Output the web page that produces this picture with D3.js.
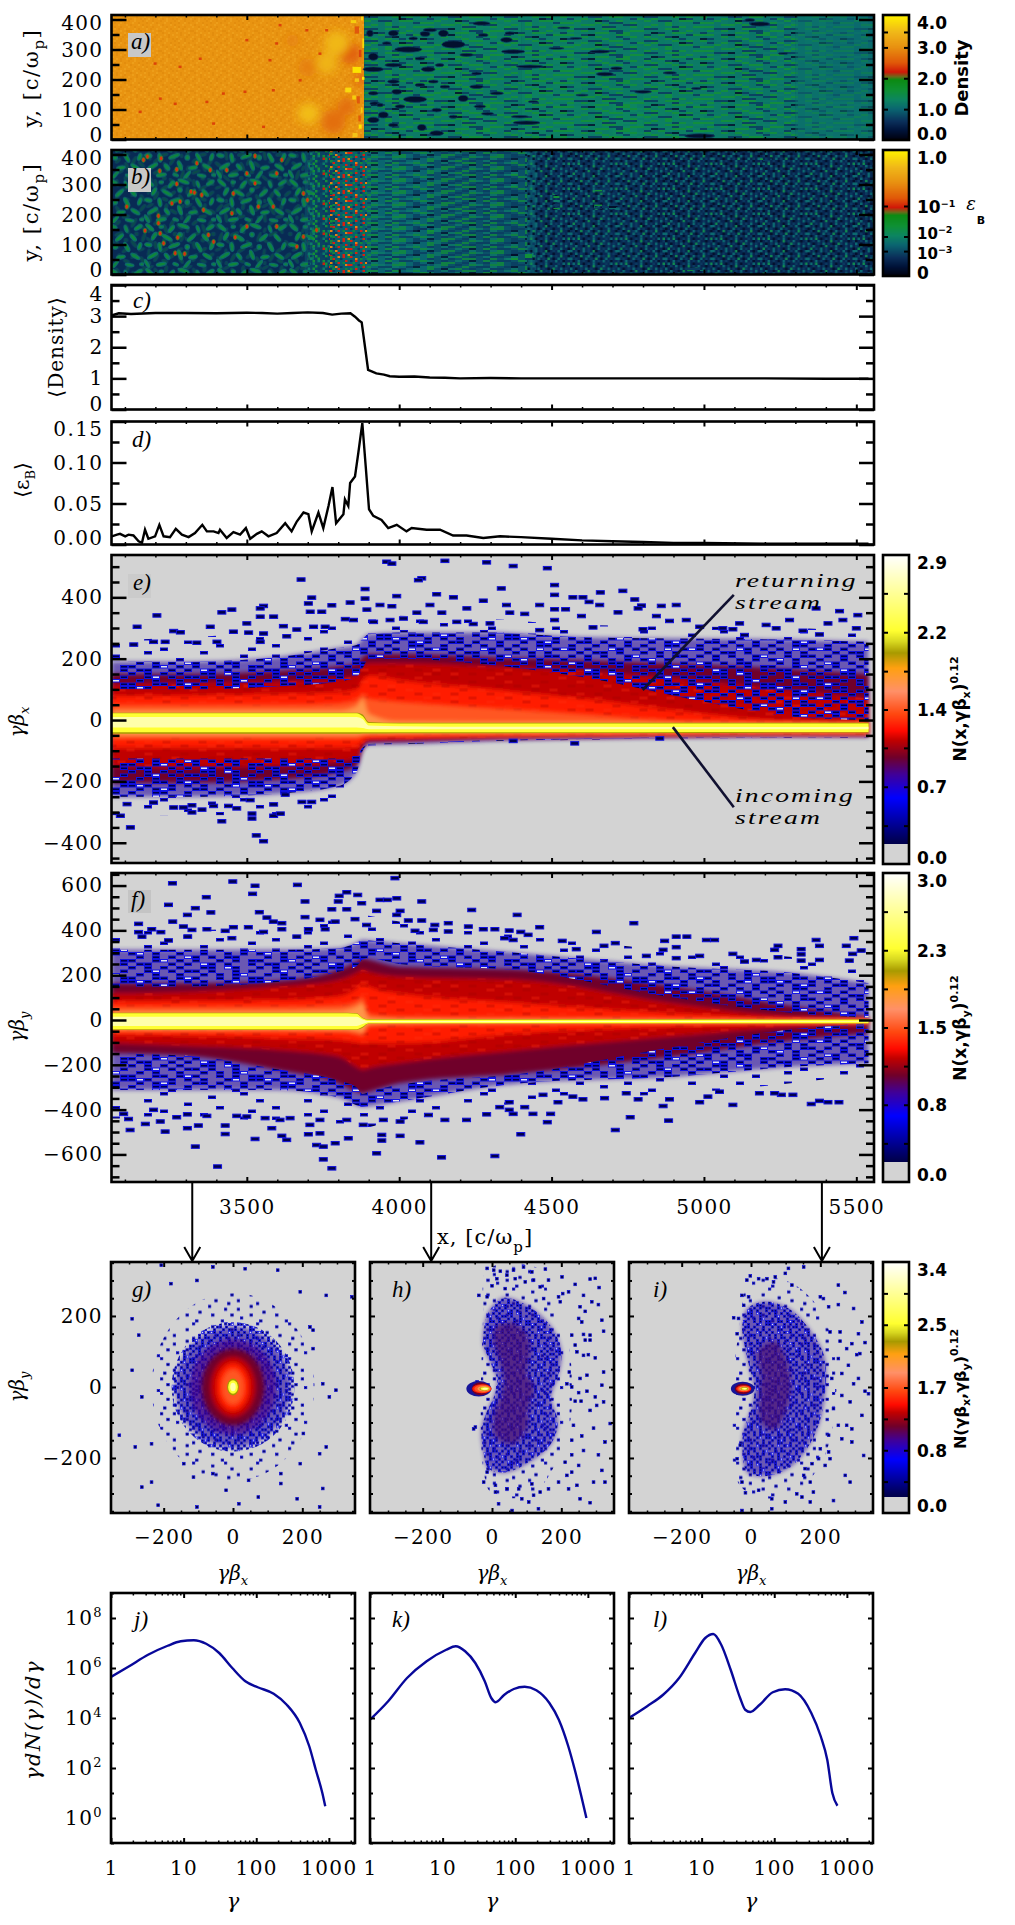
<!DOCTYPE html>
<html><head><meta charset="utf-8"><script src="https://cdn.jsdelivr.net/npm/d3@7"></script>
<style>html,body{margin:0;background:#fff}svg{display:block}</style></head><body><div id="chart"></div>
<script>
// ---------- values ----------
const xMajorTicks=[3500,4000,4500,5000,5500];
const cX=[3056,3080,3120,3200,3300,3400,3500,3550,3600,3650,3700,3750,3780,3810,3840,3855,3868,3877,3888,3898,3925,3950,3969,4000,4050,4100,4150,4200,4300,4400,4500,4600,4800,5000,5200,5400,5540];
const cDensity=[3.02,3.09,3.07,3.1,3.1,3.09,3.11,3.1,3.08,3.1,3.12,3.1,3.05,3.08,3.09,2.98,2.86,2.8,2.0,1.27,1.16,1.12,1.07,1.05,1.06,1.03,1.02,1,1.01,1,1,1,1,1,1,.99,.99];
const dX=[3057,3074,3084,3101,3112,3128,3145,3156,3166,3177,3199,3213,3227,3248,3267,3287,3309,3330,3354,3369,3391,3407,3412,3434,3456,3478,3497,3511,3533,3549,3571,3598,3626,3647,3664,3686,3702,3713,3735,3751,3768,3781,3793,3817,3822,3833,3839,3855,3866,3879,3890,3901,3915,3942,3964,3992,4024,4041,4090,4134,4177,4221,4276,4331,4400,4500,4600,4700,4800,4900,5000,5200,5540];
const dEps=[.010,.012,.013,.010,.012,.011,.004,.002,.018,.007,.010,.024,.010,.009,.019,.012,.009,.014,.024,.016,.016,.014,.018,.008,.015,.012,.020,.007,.013,.016,.010,.014,.026,.016,.028,.039,.037,.016,.039,.020,.047,.070,.026,.037,.055,.047,.075,.083,.112,.148,.096,.043,.035,.030,.020,.024,.016,.020,.018,.018,.011,.011,.008,.010,.009,.007,.005,.004,.003,.002,.002,.001,.001];
const logGammaJ=[0,.25,.51,.78,.96,1.14,1.31,1.49,1.67,1.85,2.02,2.24,2.42,2.6,2.73,2.82,2.91,2.95];
const logNJ=[5.64,6.07,6.53,6.89,7.07,7.11,6.97,6.6,6.0,5.47,5.23,4.97,4.53,3.8,2.87,1.93,1.0,.47];
const logGammaK=[0,.25,.51,.78,1.05,1.18,1.31,1.45,1.58,1.67,1.73,1.85,1.98,2.13,2.29,2.47,2.6,2.73,2.82,2.91,2.98];
const logNK=[3.93,4.67,5.6,6.27,6.73,6.87,6.67,6.2,5.47,4.8,4.63,4.93,5.16,5.25,5.11,4.6,3.93,2.87,1.93,.87,0];
const logGammaL=[0,.25,.47,.69,.91,1.05,1.16,1.27,1.4,1.53,1.6,1.67,1.8,1.98,2.15,2.33,2.51,2.64,2.73,2.8,2.87];
const logNL=[4,4.47,4.93,5.6,6.6,7.2,7.36,6.93,5.93,4.8,4.33,4.24,4.53,5.03,5.15,4.97,4.2,3.27,2.33,1,.49];

const densityStops=[0,.3,.6,1,1.3,1.6,1.95,2.05,2.2,2.5,3,3.5,4];
const densityColors=["#00000c","#001238","#0a2f5a","#0a6570","#0c8560","#0e9035","#0c8a12","#6a6a1a","#d01808","#e05808","#e89010","#f0b818","#ffee00"];
const hotStops=[0,.072,.214,.29,.345,.40,.431,.486,.559,.634,.683,.72,.755,.907,1];
const hotColors=["#000030","#000050","#0000ff","#400098","#70002a","#c00000","#ff0a00","#ff4810","#ff9068","#ffa010","#a89a00","#d8d820","#ffff30","#ffffb0","#ffffff"];
const heatLevels=[.26,.345,.40,.45,.5,.585,.683,.755,.9];

// panel e contours (gamma beta_x at each contour level, per x knot)
const eKnots=[3056,3300,3600,3800,3860,3880,3900,4000,4300,4600,5000,5300,5540];
const eUpper=[[190,190,205,235,245,265,280,285,285,270,265,262,255],[150,150,160,175,185,205,215,215,205,195,180,165,150],[115,120,125,135,145,175,185,185,175,160,125,95,70],[78,80,85,90,100,130,145,130,100,70,20,-5,-10],[50,50,50,55,65,85,70,60,40,20,-5,-8,-10],[30,30,30,30,45,70,20,-5,-7,-7,-8,-8,-8],[24,24,24,24,24,18,-6,-9,-9,-9,-9,-9,-9],[22,22,22,22,22,12,-10,-11,-11,-11,-11,-11,-11],[10,10,10,10,10,3,-18,-20,-22,-22,-23,-23,-22]];
const eLower=[[-250,-250,-240,-215,-170,-100,-80,-78,-68,-62,-58,-56,-56],[-205,-205,-195,-170,-150,-92,-72,-70,-62,-58,-54,-52,-52],[-150,-155,-150,-135,-125,-82,-66,-64,-58,-54,-50,-49,-49],[-90,-90,-90,-90,-88,-68,-60,-58,-53,-50,-47,-46,-46],[-62,-62,-62,-62,-62,-55,-52,-50,-49,-47,-45,-44,-44],[-50,-50,-50,-50,-50,-48,-47,-46,-45,-44,-43,-42,-42],[-45,-45,-45,-45,-45,-44,-44,-43,-43,-42,-42,-41,-41],[-40,-40,-40,-40,-40,-40,-40,-40,-40,-40,-39,-39,-39],[-24,-24,-24,-24,-24,-26,-30,-30,-30,-30,-30,-30,-30]];
const eNoisyUpper=[100,100,110,125,140,170,200,200,180,140,60,10,0];
const eNoisyLower=[-125,-125,-125,-125,-115,-90,-78,-76,-66,-60,-57,-55,-55];
const eSparseUpper=[260,270,290,320,330,340,345,340,330,310,305,300,290];
const eSparseLower=[-310,-310,-310,-290,-230,-110,-85,-80,-70,-64,-60,-58,-58];
const eOutX=[3959,3976,4150,4287,3678,4074,4063,3888,3713,3992,4123,4178,4276,3205,3418,3451,3555,3544,3702,3779,3839,3708,3746,3888,3937,3976,3894,4101,4140,4222,3500,3544,3588,3620,3380,3140,3260,3282,3456,3506,3555,3664,3719,3757,3823,3850,3916,3970,4014,4058,4079,4189,4243,4298,3194,3232,3336,3402,3544,3631,3129,3118,3085,3531,3555,3418,3517,3517,3588,3610,3353,3320,3467,3440,3260,3292,3320,3194,3107,3391,3588,3681,3713,3626,3511,4374,4486,4510,4510,4335,4570,4603,4623,4660,4734,4773,4658,4461,4510,4546,4795,4784,4860,4909,4352,4718,4598,4510,4412,4363,4844,5445,5368,5505,5281,5204,5407,5456,5117,4942,4887,5237,5062,5095,5325,5500,5379,5133,4986,4800,4636,4461,4576,4374,4855];
const eOutY=[516,510,519,514,458,462,456,427,399,404,410,400,389,341,351,360,372,364,380,374,383,353,353,396,375,371,360,375,350,364,315,337,337,306,304,304,290,286,288,285,282,295,304,304,329,326,320,326,331,350,320,320,313,315,255,255,252,255,255,273,246,-350,-312,-376,-395,-330,-305,-321,-312,-305,-292,-301,-288,-280,-285,-285,-278,-269,-274,-280,-275,-267,-267,-243,-261,502,495,440,408,429,400,400,385,416,421,393,375,375,361,361,373,364,372,375,375,351,339,326,346,350,339,355,364,342,326,310,315,326,315,326,323,299,299,296,291,299,279,277,304,296,302,293,-76,-68,-60];
const annoReturningX=[5098,4799], annoReturningY=[408,98], annoIncomingX=[4898,5098], annoIncomingY=[-23,-284];

// panel f contours
const fKnots=[3056,3300,3600,3800,3860,3880,3900,4000,4400,4900,5300,5540];
const fUpper=[[313,313,313,320,345,357,355,343,298,238,209,164],[164,164,175,224,260,276,270,238,224,149,60,15],[119,125,149,179,210,224,215,194,179,75,15,8],[82,85,90,105,140,164,150,119,75,30,5,3],[60,60,60,67,85,105,30,15,10,6,4,3],[38,38,38,40,60,75,8,6,5,4,3,3],[32,32,32,32,30,10,3,3,3,3,2,2],[30,30,30,30,28,8,1,1,1,1,1,1],[15,15,15,15,14,2,-5,-5,-5,-5,-6,-6]];
const fLower=[[-312,-312,-312,-345,-380,-387,-385,-364,-282,-253,-208,-193],[-148,-160,-223,-282,-320,-327,-320,-282,-238,-163,-89,-59],[-104,-115,-134,-163,-210,-223,-215,-193,-134,-74,-29,-20],[-67,-70,-80,-89,-100,-104,-100,-104,-59,-29,-18,-15],[-52,-52,-52,-55,-65,-74,-29,-22,-18,-16,-15,-14],[-46,-46,-46,-46,-50,-55,-20,-17,-16,-15,-14,-14],[-43,-43,-43,-43,-43,-35,-16,-15,-15,-15,-14,-14],[-41,-41,-41,-41,-41,-30,-15,-14,-14,-14,-14,-14],[-27,-27,-27,-27,-27,-18,-10,-10,-10,-9,-9,-9]];
const fNoisyUpper=[150,150,170,215,240,270,275,250,220,100,30,10];
const fNoisyLower=[-150,-160,-220,-270,-300,-330,-320,-290,-240,-120,-40,-15];
const fSparseUpper=[400,400,420,450,460,470,465,440,380,310,280,240];
const fSparseLower=[-440,-440,-450,-480,-490,-490,-480,-450,-370,-330,-280,-240];
const fOutX=[3256,3454,3527,3666,3986,3243,3367,3519,3331,3305,3382,3541,3691,3803,3828,3864,3800,3877,3937,3961,3992,4074,4238,4003,3926,3828,3779,3691,3145,3257,3292,3320,3369,3188,3145,3218,3429,3505,3555,3456,3566,3587,3615,3615,3702,3740,3757,3790,3855,3893,3992,4030,4074,4117,4161,4227,4052,4112,4276,4161,4314,3243,3156,3306,3451,3664,3331,3404,3751,3779,3926,4139,4314,3729,3751,3790,3833,3615,3631,3527,3429,3232,3117,4068,3943,3943,4003,3702,3740,3582,3341,3305,3429,3167,3216,3112,3270,3194,3096,3305,3369,3467,3500,3560,3609,3642,3707,3740,3828,3882,3948,4003,4150,4221,4287,4096,4387,4770,4461,4361,4399,4647,4423,4346,4374,4535,4909,4944,5008,5035,4871,5368,5492,4709,4672,4909,4581,5379,5467,5243,5319,5232,5516,4866,5095,5319,5488,5243,5172,5133,5379,5477,5319,4986,4909,4811,4399,4709,4884,4758,4486,4439,4374,4497,4866,4412,4361,5095,5352,5379,5407,5443,5292,5254,5232,5182,4986,5013,5051,4887,4784,4745,4674,4603,4570,4521,4472,4361,4330];
const fOutY=[610,618,599,603,633,514,548,563,499,469,480,481,529,554,570,558,529,521,536,536,543,529,491,487,487,494,494,459,429,439,417,402,405,405,392,392,398,414,393,414,457,439,432,405,405,447,405,439,450,424,469,444,444,424,432,417,398,402,405,395,405,355,372,372,365,372,-565,-654,-622,-662,-595,-613,-607,-558,-565,-550,-528,-517,-535,-531,-509,-498,-491,-546,-538,-513,-517,-510,-506,-483,-471,-483,-471,-464,-453,-442,-434,-401,-419,-421,-428,-428,-431,-438,-446,-438,-468,-446,-446,-468,-446,-453,-446,-446,-421,-424,469,432,414,399,393,393,380,365,357,353,372,372,357,357,353,357,365,343,331,325,316,331,331,331,316,313,310,313,295,293,295,280,268,261,268,265,265,286,276,286,-510,-491,-449,-434,-456,-419,-419,-419,-384,-389,-401,-379,-375,-361,-367,-367,-334,-334,-327,-327,-367,-342,-320,-354,-354,-327,-349,-354,-342,-367,-334,-367,-389];

// panels g, h, i
const gRx=[165,125,90,65,48,32,17,14,8], gRy=[170,135,108,85,68,50,24,19,12];
const gOutX=[-207,-179,-104,-58,35,129,194,269,343,-291,-272,-291,-263,-328,-235,-282,222,231,259,297,278,231,203,269,250,194,138,138,259,185,250,-104,-216,-263,-235,-142,-114,-58,45,73,-20,17];
const gOutY=[343,291,300,338,333,329,268,258,254,192,146,47,-28,-136,-160,-169,169,160,9,-9,-28,108,-131,-169,-188,-216,-244,-272,-286,-315,-338,-338,-333,-282,-268,-216,-254,-244,-263,-310,-291,-329];
const hHullX=[-10,30,100,170,200,190,170,190,170,110,40,-10,-25,-30,-15,5,15,-5,-25,-20], hHullY=[210,250,230,170,100,30,-30,-100,-160,-210,-240,-230,-180,-120,-70,-30,20,70,120,180];
const hCoreX=[10,60,100,110,100,120,105,100,60,10,5,25,35,20,5], hCoreY=[170,180,150,100,40,0,-60,-120,-160,-140,-80,-30,20,80,130];
const hOuterX=[-25,-14,130,170,220,230,220,120,0,-25], hOuterY=[210,330,335,240,120,0,-120,-300,-300,-230];
const iHullX=[-10,40,110,170,210,215,200,170,120,50,-10,-25,-20,5,10,0,-15,-25], iHullY=[220,240,220,160,90,0,-90,-160,-220,-250,-240,-170,-120,-50,0,40,100,170];
const iCoreX=[20,70,105,115,100,70,30,25,30], iCoreY=[100,130,70,0,-70,-120,-100,-30,30];
const iOuterX=[-30,0,100,190,240,240,200,100,-30], iOuterY=[200,300,300,230,100,-80,-220,-310,-280];
// beam ellipses: centre x, half width, half height, per level
const hBeamCx=[-38,-33,-29,-27,-24,-22,-21,-20], hBeamRx=[36,26,28,24,18,14,12,8], hBeamRy=[22,18,13,11,8,5,4,2.5];
const iBeamCx=[-24,-23,-21,-21,-20,-19,-19,-18], iBeamRx=[34,24,22,18,14,11,9,5], iBeamRy=[20,15,10,8,6,4,3,2];
const hOutX=[-14,5,24,43,62,91,115,154,14,67,96,120,163,202,283,298,309,240,221,204,192,-38,-14,0,38,139,149,197,264,288,307,254,269,250,317,259,264,283,322,269,283,230,240,245,264,298,278,223,274,322,254,317,216,230,250,274,298,322,240,257,283,302,341,293,235,259,230,326,264,230,307,211,250,230,317,216,326,293,245,192,163,221,139,120,254,283,10,19,58,86,106,134,-14,-24,10,43,77,115,-48,-53,-43];
const hOutY=[334,329,326,315,329,338,324,332,305,305,296,301,301,310,304,306,280,289,268,263,254,258,254,285,277,282,249,240,258,240,232,226,213,193,188,183,148,146,157,132,132,146,118,99,89,82,91,42,33,42,24,5,9,0,-16,-12,-28,-42,-40,-40,-66,-52,-103,-116,-108,-138,-150,-155,-179,-191,-191,-212,-221,-240,-235,-249,-268,-268,-277,-268,-287,-287,-296,-305,-315,-326,-296,-329,-348,-315,-324,-343,-240,-268,-277,-287,-287,-273,-113,-118,14];
const iOutX=[152,108,99,70,46,-2,-12,22,65,118,252,271,296,209,200,224,252,-26,-7,-21,-50,-36,320,310,257,228,-40,329,291,257,314,276,305,252,281,262,233,310,296,329,339,262,286,320,238,252,291,276,262,224,291,200,224,325,195,228,176,214,156,272,286,171,152,180,132,99,60,60,147,171,238,-16,22,-26,-40,-31,-26];
const iOutY=[338,334,320,310,305,313,301,305,296,287,287,266,221,249,254,226,232,258,254,230,195,193,183,150,155,155,150,125,122,129,94,108,91,80,61,38,24,24,9,-12,-19,-24,-42,-80,-61,-108,-118,-108,-146,-136,-155,-174,-183,-193,-202,-202,-216,-221,-230,-249,-268,-268,-249,-296,-301,-324,-315,-343,-310,-324,-320,-298,-291,-268,-202,-164,-348];

// panel a: mean density in coarse bins on the upstream side of the shock front
const aBinX=[3885,4000,4100,4200,4300,4400,4500,4600,4700,4800,4900,5000,5100,5200,5300,5400,5558];
const aBinTop=[1.15,1.2,1.2,1.25,1.25,1.2,1.25,1.2,1.2,1.2,1.2,1.15,1.15,1.1,1.1,1.05];
const aBinMid=[1.2,1.2,1.25,1.2,1.2,1.25,1.25,1.2,1.2,1.25,1.2,1.2,1.15,1.15,1.1,1.05];
const aBinLow=[1.15,1.2,1.2,1.25,1.2,1.25,1.25,1.25,1.3,1.25,1.25,1.2,1.2,1.15,1.1,1.1];
const aBinRows=[415,280,130,0];
// x, y, half-width, half-height in data units
const aLensX=[4178,4030,3915,3915,3981,4095,4052,3948,3915,4074,4123,4145,4085,3981,3904,3992,4210,4254,4270,4254,4068,4150,4003,4290,4352,4363,4374,4429,4713,4675,4658,4800,5183,5150,4986,4418,4396,4888,5260,4975,4516,4580,4600,4440,4540,3920,4101,4276,3959,4068,4221,4133,3981,4112,3915,4123,4178,3981,4265,4320,3937,4046];
const aLensY=[317,300,234,276,248,234,134,82,65,40,21,354,352,354,354,159,137,176,387,220,182,176,110,86,332,354,293,243,237,218,293,159,385,398,12,56,76,222,287,170,304,337,148,126,372,120,365,348,321,270,282,248,193,193,154,98,76,48,110,154,115,337];
const aLensW=[38,44,33,16,28,22,38,16,19,14,22,16,16,16,11,16,16,22,28,16,16,16,16,20,19,16,38,44,19,28,33,28,33,16,49,44,28,22,16,16,25,20,20,16,20,16,22,16,14,16,22,14,19,16,16,16,14,16,19,22,11,14];
const aLensH=[12,9,8,12,6,8,10,10,9,10,8,11,8,9,11,8,10,6,6,5,5,5,6,5,8,5,6,5,5,6,5,5,7,5,7,6,4,4,3,3,3,3,3,3,3,6,6,5,5,5,5,5,6,5,6,6,5,6,5,5,6,5];
const aBlobX=[3839,3784,3828,3795,3762,3702,3872,3700,3650];
const aBlobY=[287,59,110,321,254,87,200,240,330];
const aBlobR=[35,40,30,40,35,35,20,30,20];
const aBlobV=[2.55,2.7,2.7,3.5,3.45,3.55,2.6,2.85,2.85];
const aFrontX=[3861,3833,3872,3877,3861,3882,3872,3850,3855,3866,3861,3882,3870,3852,3878];
const aFrontY=[232,165,43,98,365,321,287,393,15,132,198,204,70,140,405];
const aFrontW=[14,10,5,3,7,3,4,9,8,5,7,4,4,6,3];
const aFrontH=[10,8,7,9,12,16,12,5,7,12,6,5,10,7,8];
const aFrontV=[3.9,3.8,3.9,3.7,2.5,3.8,2.4,3.7,3.6,2.5,3.6,3.95,2.5,3.7,3.8];
const aDotX=[3609,3740,3500,3347,3281,3216,3265,3494,3587,3369,3150,3391,3576,3675,3555,3697,3598,3423,3199,3762];
const aDotY=[382,287,332,270,243,137,120,160,165,126,93,54,265,198,43,365,321,154,254,365];
// panel b
const bBinX=[3056,3690,3780,3890,4100,4450,4800,5558];
const bBinV=[.55,.75,.95,1.0,.85,.55,.5];
const bSpotX=[3174,3219,3270,3214,3270,3317,3352,3328,3254,3281,3358,3210,3166,3216,3273,3210,3374,3462,3391,3227,3265,3296,3500,3451,3456,3500,3527,3527,3615,3598,3538,3664,3699,3686,3598,3106,3380,3434,3161,3336,3587,3729,3686];
const bSpotY=[393,387,350,345,302,276,265,273,237,243,215,195,146,137,123,171,132,124,109,104,71,69,160,204,270,337,395,304,382,337,226,93,248,270,160,226,348,348,382,371,226,148,126];
const bPatchX=[4363,4352,4680,4669,4396,4975,5204,4516,4100,3990];
const bPatchY=[337,298,226,282,60,17,382,248,150,60];
const bPatchW=[33,33,40,30,45,30,20,10,40,40];
const bPatchH=[6,6,7,5,12,5,5,30,8,6];

// textures for noisy regions (symbolic hatching, one character per hatch cell)
const speckleTile=["#o#..#.#.#..#o.#",".#.#o#..##.#..#.","#..##..#..#.#.#.",".#.o.#o#.#..o#.#","#.#.#...#.##.#..","..#.##.#.#.#..#o","#o.#..#..#..#.#.",".#.#.#.o#.#.##..","#..#o.#.#..#.#.#",".##..#.#.o#.#..#","#.#.#.#..##.o#..","..#o.#.##.#..#.#",".#.#..#..#.#.#o.","#..##.#o#..#.#.#"];
const sparseTile=["#.........#.........","......#.............","............#.....#.","...#................",".......#......#.....","#..........#........",".....#............#.","..........#...#.....","..#.................","......#.....#.....#.","...............#....",".#.......#.........."];
const mottleTile=["r.b.r..b","..r...b.","b...r...",".r.b...r","...r.b..","b.r...r."];
const orangeTile=["d..l...d.l..d...","..l..d...d..l.d.",".d...l.d...l...l","l..d...l.d..d...","...l.d...l.d..l.","d.l...d.d...l..d",".d..l...l.d...l.","..l.d.l...d.l.d.","l...d...l....d..",".d.l..d.d.l.d..l"];
const aStripeTile=["tt.gg.gt.nn.tg.g.tt.","gg.tt.nn..g.gt.tng.g","..nnk.gg.tt.nn.gg.t.","tg.g.t.nn.gg.t.tn.gt","n.tt.gg.ng.t.kn.ggt.","gg.nk.t.gg.tn.g.t.ng",".t.g.gt.n.g.gt.nk.t.","kn.tt.g.tn.t.g.g.nt.","g.t.nn.gg.t.nn.tg.gt","tn.g.g.tt.ng.g.t.kn.","..gt.kn.g.t.g.nn.gg.","gg.t.g.nn.gt.t.g.t.n"];
const bStripeTile=["gg.nn.tg.n.gt.","t.nk.gt.n.g.nn","nn.t.g.ktg.n.t","g.tg.n.tn.gg.n",".nn.gt.n.t.k.g","tg.n.k.gg.nt.n"];
const bHotTile=["r...n.g..o.r.g","..o.g..r..n...","n.r...n.g...r.",".g..r.o..r.g..","r..n.g..n...or","..g..r..o.n...","g.r.n..g.r..g.",".n...r.n...r.o"];
const bMidTile=["g.r.n.g..n","n.g.t..g..",".t.n.g.t.g","g..n.t.n.r","t.g...g.n.",".n.t.g.n.t"];
const bNoiseTile=["t.nk.t.n.gk.n.t.k.t","k.t.n.k.t.n.k..t.n.",".nk.g.nt.k.t.n.g..k","t.n.k.t.n.g.k.t.n.t","nk.t.n.k.t.n.t.nk..",".t.g.k.n.t.k..n.t.g","k.n.t.nk.g.n.t..k.n","t.k.n.t.n.k.gn.t.n.","n.t..k.g.n.t.k.n.t.",".g.n.t.n.k.t.n.t..k"];
// worm-shaped hatch for the ordered filaments behind the shock: cx, cy, rx, ry, angle
const wormTile=[[8,6,7,2.5,40],[24,5,3,2,0],[38,8,6,2.5,-50],[55,4,8,2.5,20],[75,8,5,2,70],[92,6,6,2.5,-30],[14,18,6,2.5,-60],[32,20,8,2.5,30],[50,16,3,3,0],[66,20,7,2.5,-40],[85,20,6,2.5,50],[6,30,5,2.5,10],[22,33,6,2.5,80],[42,31,8,2.5,-20],[60,33,3,3,0],[76,33,7,2.5,60],[94,32,5,2.5,-70],[12,45,8,2.5,-30],[32,46,5,2.5,50],[50,44,7,2.5,70],[68,47,6,2.5,-10],[88,46,7,2.5,30],[4,56,6,2,60],[24,57,7,2.5,-10],[44,57,4,2,20],[60,57,7,2,-50],[80,58,6,2,10],[97,57,3,2,0]];

// ---------- geometry ----------
const width=1015,height=1925,L=111.5,R=874;
const serif="'DejaVu Serif',serif", ital="'Liberation Serif',serif", sans="'DejaVu Sans',sans-serif";
const svg=d3.select("#chart").append("svg").attr("width",width).attr("height",height).attr("viewBox",[0,0,width,height]);
const defs=svg.append("defs");
defs.append("filter").attr("id","soft").append("feGaussianBlur").attr("stdDeviation","0.6");
defs.append("filter").attr("id","soft2").append("feGaussianBlur").attr("stdDeviation","2.2");
defs.append("filter").attr("id","soft5").append("feGaussianBlur").attr("stdDeviation","4");
const densityColor=d3.scaleLinear().domain(densityStops).range(densityColors).clamp(true);
const hotColor=d3.scaleLinear().domain(hotStops).range(hotColors).clamp(true);
const X=d3.scaleLinear().domain([3056,5558]).range([L,R]);

const navy={fill:"#00004a",stroke:"#1010e0"}, ring={fill:"#e2e2ea",stroke:"#1414e8"};
function tile(id,rows,cw,ch,pal,sw=1){
  const w=d3.max(rows,r=>r.length)*cw,h=rows.length*ch;
  const p=defs.append("pattern").attr("id",id).attr("patternUnits","userSpaceOnUse").attr("width",w).attr("height",h);
  rows.forEach((r,j)=>[...r].forEach((c,i)=>{const s=pal[c];if(!s)return;
    p.append("rect").attr("x",i*cw+sw/2).attr("y",j*ch+sw/2).attr("width",cw-sw).attr("height",ch-sw)
     .attr("fill",s.fill).attr("stroke",s.stroke||"none").attr("stroke-width",s.stroke?sw:0);}));
}
const spk={"#":navy,o:ring};
tile("spk",speckleTile,8,3.5,spk);
tile("sprE",sparseTile,8,3.5,spk);
tile("spkS",speckleTile,3,2.7,spk,.7);
tile("sprS",sparseTile,3.2,2.9,spk,.7);
tile("mot",mottleTile,9,4,{r:{fill:"#a00000"},b:{fill:"#ff3010"}});
function solidTile(id,rows,cw,ch,pal){
  const w=d3.max(rows,r=>r.length)*cw,h=rows.length*ch;
  const p=defs.append("pattern").attr("id",id).attr("patternUnits","userSpaceOnUse").attr("width",w).attr("height",h);
  rows.forEach((r,j)=>[...r].forEach((c,i)=>{if(!pal[c])return;
    p.append("rect").attr("x",i*cw).attr("y",j*ch).attr("width",cw).attr("height",ch).attr("fill",pal[c]);}));
}
solidTile("orange",orangeTile,2,2,{d:"#d98208",l:"#f2ac28"});
const greenPal={g:"#129038",t:"#0c7a68",n:"#0a3a60",k:"#03102c"};
solidTile("aStripe",aStripeTile,7,2,greenPal);
solidTile("bStripe",bStripeTile,7,2,greenPal);
solidTile("bHot",bHotTile,2.5,2,{r:"#d82010",o:"#e88010",g:"#10883a",n:"#0a3a60"});
solidTile("bMid",bMidTile,2.5,2.5,{...greenPal,r:"#c82010"});
solidTile("bNoise",bNoiseTile,2.5,2.5,{...greenPal,t:"#0b6a70",g:"#0f8a50"});
[["worm","scale(.72)"],["worm2","translate(31,17) rotate(90) scale(.62)"]].forEach(([id,tr])=>{
 const p=defs.append("pattern").attr("id",id).attr("patternUnits","userSpaceOnUse").attr("width",100).attr("height",62).attr("patternTransform",tr);
 wormTile.forEach(w=>p.append("ellipse").attr("cx",w[0]).attr("cy",w[1]).attr("rx",w[2]).attr("ry",w[3]).attr("transform",`rotate(${w[4]} ${w[0]} ${w[1]})`).attr("fill","#0e8a35").attr("stroke","#0c6a6a").attr("stroke-width",1.8));
});

let pid=0;
function panel(x0,x1,y0,y1,bg){
  const id="clip"+(++pid);
  defs.append("clipPath").attr("id",id).append("rect").attr("x",x0).attr("y",y0).attr("width",x1-x0).attr("height",y1-y0);
  const g=svg.append("g").attr("clip-path",`url(#${id})`);
  g.append("rect").attr("x",x0).attr("y",y0).attr("width",x1-x0).attr("height",y1-y0).attr("fill",bg);
  return g;
}
function axes(xs,ys,o){
  const [x0,x1]=xs.range(),[y1,y0]=ys.range();
  const g=svg.append("g");
  const add=(axis,tx,ty,w)=>{const s=g.append("g").attr("transform",`translate(${tx},${ty})`).call(axis);
    s.select(".domain").remove();s.selectAll("line").attr("stroke","#000").attr("stroke-width",w);return s;};
  const none=()=>"";
  add(d3.axisBottom(xs).tickValues(o.xMinor).tickSize(-(o.xs||2.5)).tickFormat(none),0,y1,1.5);
  add(d3.axisTop(xs).tickValues(o.xMinor).tickSize(-(o.xs||2.5)).tickFormat(none),0,y0,1.5);
  add(d3.axisTop(xs).tickValues(o.xMajor).tickSize(-(o.xl||5)).tickFormat(none),0,y0,2);
  const b=add(d3.axisBottom(xs).tickValues(o.xMajor).tickSize(-(o.xl||5)).tickPadding(o.xPad||18).tickFormat(o.xFmt||none),0,y1,2);
  b.selectAll("text").attr("font-family",serif).attr("font-size",20).attr("letter-spacing","1.4px").attr("fill","#000");
  add(d3.axisLeft(ys).tickValues(o.yMinor).tickSize(-o.ys).tickFormat(none),x0,0,o.yw||2.5);
  add(d3.axisRight(ys).tickValues(o.yMinor).tickSize(-o.ys).tickFormat(none),x1,0,o.yw||2.5);
  add(d3.axisRight(ys).tickValues(o.yMajor).tickSize(-o.yl).tickFormat(none),x1,0,o.yw||2.5);
  const l=add(d3.axisLeft(ys).tickValues(o.yMajor).tickSize(-o.yl).tickPadding(8).tickFormat(o.yFmt||none),x0,0,o.yw||2.5);
  l.selectAll("text").attr("font-family",serif).attr("font-size",20).attr("letter-spacing","1.4px").attr("fill","#000");
  if(o.yShift)l.selectAll("text").attr("dy",d=>(o.yShift[d]||0)+6.5);
  g.append("rect").attr("x",x0).attr("y",y0).attr("width",x1-x0).attr("height",y1-y0).attr("fill","none").attr("stroke","#000").attr("stroke-width",2.6);
  return {left:l,bottom:b};
}
const minus=d=>String(d).replace("-","\u2212");
function say(x,y,parts,o={}){
  const t=svg.append("text").attr("font-family",o.font||serif).attr("font-size",o.size||21).attr("fill",o.color||"#000")
    .attr("font-style",o.italic?"italic":null).attr("font-weight",o.bold?"bold":null).attr("letter-spacing",o.ls?o.ls+"px":null)
    .attr("text-anchor",o.anchor||"middle").attr("transform",`translate(${x},${y})`+(o.rot?" rotate(-90)":"")+(o.sx?` scale(${o.sx},1)`:""));
  let cur=0;
  parts.forEach(p=>{const s=Array.isArray(p)?p:[p,0,null];
    t.append("tspan").attr("dy",s[1]-cur).attr("font-size",s[2]).text(s[0]);cur=s[1];});
  return t;
}
function letter(x,y,txt,box){
  if(box)svg.append("rect").attr("x",128).attr("y",y-16).attr("width",23).attr("height",24).attr("fill",box);
  say(x,y,[txt],{font:ital,size:23,italic:true,anchor:"start"});
}
function colorbar(y0,y1,max,colorOf,ticks,labels){
  const ys=d3.scaleLinear().domain([0,max]).range([y1,y0]);
  const g=svg.append("g");
  g.selectAll("rect").data(d3.range(0,y1-y0)).join("rect").attr("x",883).attr("width",26)
    .attr("y",d=>y0+d).attr("height",1.2).attr("fill",d=>colorOf(ys.invert(y0+d+.5)));
  g.append("g").attr("transform","translate(909,0)").call(d3.axisRight(ys).tickValues(ticks).tickSize(-5).tickFormat("")).call(s=>s.select(".domain").remove()).selectAll("line").attr("stroke","#000").attr("stroke-width",2);
  g.append("g").attr("transform","translate(883,0)").call(d3.axisLeft(ys).tickValues(ticks).tickSize(-5).tickFormat("")).call(s=>s.select(".domain").remove()).selectAll("line").attr("stroke","#000").attr("stroke-width",2);
  g.append("rect").attr("x",883).attr("y",y0).attr("width",26).attr("height",y1-y0).attr("fill","none").attr("stroke","#000").attr("stroke-width",2.6);
  labels.forEach(l=>{
    const y=ys(l[0])+6.5+(l[2]||0);
    const t=g.append("text").attr("x",917).attr("y",y).attr("font-family",sans).attr("font-weight","bold").attr("font-size",l[4]||17);
    t.append("tspan").text(l[1]);
    if(l[3])t.append("tspan").attr("dy",-6).attr("font-size",9.5).text(l[3]);
  });
}
function arrGen(knots,up,low,xs,ys){
  return d3.area().x((d,i)=>xs(knots[i])).y0((d,i)=>ys(low[i])).y1((d,i)=>ys(up[i])).curve(d3.curveMonotoneX)(knots);
}
function outliers(g,xs,ys,ox,oy,w,h){
  g.append("g").selectAll("rect").data(ox).join("rect").attr("x",d=>xs(d)-w/2).attr("y",(d,i)=>ys(oy[i])-h/2)
   .attr("width",w).attr("height",h).attr("fill","#00004a").attr("stroke","#1010e0").attr("stroke-width",w<4?.7:1);
}
function heatPanel(y0,y1,dom,knots,up,low,noisyUp,noisyLow,sparseUp,sparseLow,ox,oy){
  const ys=d3.scaleLinear().domain(dom).range([y1,y0]);
  const g=panel(L,R,y0,y1,"#d3d3d3");
  g.append("path").attr("d",arrGen(knots,sparseUp,up[0],X,ys)).attr("fill","url(#sprE)");
  g.append("path").attr("d",arrGen(knots,low[0],sparseLow,X,ys)).attr("fill","url(#sprE)");
  g.append("path").attr("d",arrGen(knots,up[0],low[0],X,ys)).attr("fill","#2a10a0").attr("opacity",.62).attr("filter","url(#soft2)");
  const inner=g.append("g").attr("filter","url(#soft2)");
  heatLevels.slice(1,4).forEach((t,k)=>inner.append("path").attr("d",arrGen(knots,up[k+1],low[k+1],X,ys)).attr("fill",hotColor(t)));
  g.append("path").attr("d",arrGen(knots,up[2],low[2],X,ys)).attr("fill","url(#mot)").attr("opacity",.3);
  g.append("path").attr("d",arrGen(knots,up[0],noisyUp,X,ys)).attr("fill","url(#spk)");
  g.append("path").attr("d",arrGen(knots,noisyLow,low[0],X,ys)).attr("fill","url(#spk)");
  const mid=g.append("g").attr("filter","url(#soft2)");
  heatLevels.slice(4,6).forEach((t,k)=>mid.append("path").attr("d",arrGen(knots,up[k+4],low[k+4],X,ys)).attr("fill",hotColor(t)));
  const top=g.append("g").attr("filter","url(#soft)");
  heatLevels.slice(6).forEach((t,k)=>top.append("path").attr("d",arrGen(knots,up[k+6],low[k+6],X,ys)).attr("fill",hotColor(t)));
  outliers(g,X,ys,ox,oy,8,3.5);
  return ys;
}
const hundreds=d3.range(3100,5600,100).filter(v=>v%500);

// ---------- a ----------
const aY=d3.scaleLinear().domain([0,415]).range([139.5,15]);
{
  const g=panel(L,R,15,140,"#000");
  g.append("rect").attr("x",L).attr("y",15).attr("width",X(3885)-L).attr("height",125).attr("fill",densityColor(3.05));
  g.append("rect").attr("x",L).attr("y",15).attr("width",X(3885)-L).attr("height",125).attr("fill","url(#orange)").attr("opacity",.4);
  g.append("g").attr("filter","url(#soft5)").selectAll("ellipse").data(aBlobX).join("ellipse")
    .attr("cx",d=>X(d)).attr("cy",(d,i)=>aY(aBlobY[i])).attr("rx",(d,i)=>X(aBlobR[i])-X(0)).attr("ry",(d,i)=>aY(0)-aY(aBlobR[i])).attr("fill",(d,i)=>densityColor(aBlobV[i]));
  g.append("g").selectAll("rect").data(aDotX).join("rect").attr("x",d=>X(d)-1.5).attr("y",(d,i)=>aY(aDotY[i])-1).attr("width",3).attr("height",2.5).attr("fill",densityColor(2.4));
  [aBinTop,aBinMid,aBinLow].forEach((vals,r)=>{
    g.append("g").selectAll("rect").data(vals).join("rect").attr("x",(d,i)=>X(aBinX[i])).attr("width",(d,i)=>X(aBinX[i+1])-X(aBinX[i])+.5)
     .attr("y",aY(aBinRows[r])).attr("height",aY(aBinRows[r+1])-aY(aBinRows[r])+.5).attr("fill",d=>densityColor(d));
  });
  g.append("rect").attr("x",X(3885)).attr("y",15).attr("width",X(5300)-X(3885)).attr("height",125).attr("fill","url(#aStripe)").attr("opacity",.85);
  g.append("rect").attr("x",X(5300)).attr("y",15).attr("width",R-X(5300)).attr("height",125).attr("fill","url(#aStripe)").attr("opacity",.4);
  g.append("g").selectAll("ellipse").data(aLensX).join("ellipse").attr("cx",d=>X(d)).attr("cy",(d,i)=>aY(aLensY[i]))
    .attr("rx",(d,i)=>X(aLensW[i])-X(0)).attr("ry",(d,i)=>aY(0)-aY(aLensH[i])).attr("fill","#03102e").attr("stroke","#0a3a60").attr("stroke-width",.8);
  g.append("g").attr("filter","url(#soft)").selectAll("rect").data(aFrontX).join("rect").attr("x",(d,i)=>X(d-aFrontW[i])).attr("y",(d,i)=>aY(aFrontY[i]+aFrontH[i]))
    .attr("width",(d,i)=>X(2*aFrontW[i])-X(0)).attr("height",(d,i)=>aY(0)-aY(2*aFrontH[i])).attr("fill",(d,i)=>densityColor(aFrontV[i]));
}
axes(X,aY,{xMinor:hundreds,xMajor:xMajorTicks,yMinor:[50,150,250,350],yMajor:[0,100,200,300,400],yl:15,ys:8,yFmt:d=>d,yShift:{0:-5,400:3}});
letter(131,49,"a)","#c8c8c8");
say(38,78,["y, [c/\u03c9",["p",6,15],["]",0]],{rot:true,ls:1.6,size:21});
colorbar(15,140,4.05,densityColor,[1,2,3,3.5],[[0,"0.0",-7],[1,"1.0"],[2,"2.0"],[3,"3.0"],[4,"4.0",6]]);
say(968,78,["Density"],{rot:true,font:sans,bold:true,size:18});

// ---------- b ----------
const bY=d3.scaleLinear().domain([0,415]).range([274.5,150]);
{
  const g=panel(L,R,150,275,"#000");
  g.append("g").selectAll("rect").data(bBinV).join("rect").attr("x",(d,i)=>X(bBinX[i])).attr("width",(d,i)=>X(bBinX[i+1])-X(bBinX[i])+.5).attr("y",150).attr("height",125).attr("fill",d=>densityColor(d));
  const band=(a,b,f,op)=>g.append("rect").attr("x",X(a)).attr("y",150).attr("width",X(b)-X(a)).attr("height",125).attr("fill",f).attr("opacity",op||1);
  band(3056,3720,"url(#worm)");
  band(3056,3720,"url(#worm2)",.35);
  band(3700,3790,"url(#bMid)");
  band(3770,3895,"url(#bHot)");
  band(3895,4420,"url(#bStripe)",.75);
  band(4420,5558,"url(#bNoise)");
  g.append("g").selectAll("rect").data(bPatchX).join("rect").attr("x",(d,i)=>X(d-bPatchW[i])).attr("y",(d,i)=>bY(bPatchY[i]+bPatchH[i]))
    .attr("width",(d,i)=>X(2*bPatchW[i])-X(0)).attr("height",(d,i)=>bY(0)-bY(2*bPatchH[i])).attr("fill","url(#bStripe)");
  g.append("g").selectAll("ellipse").data(bSpotX).join("ellipse").attr("cx",d=>X(d)).attr("cy",(d,i)=>bY(bSpotY[i])).attr("rx",1.8).attr("ry",2.4).attr("fill","#d83010").attr("stroke","#2a8a2a").attr("stroke-width",.8);
}
axes(X,bY,{xMinor:hundreds,xMajor:xMajorTicks,yMinor:[50,150,250,350],yMajor:[0,100,200,300,400],yl:15,ys:8,yFmt:d=>d,yShift:{0:-5,400:3}});
letter(131,184,"b)","#c8c8c8");
say(38,212,["y, [c/\u03c9",["p",6,15],["]",0]],{rot:true,ls:1.6,size:21});
colorbar(150,276,4.05,densityColor,[.8,1.27,2.25],[[0,"0",-4],[.8,"10",1,"\u22123",15],[1.27,"10",-4,"\u22122",15],[2.25,"10",0,"\u22121"],[4,"1.0",6]]);
say(971,210,["\u03b5"],{size:18,italic:true});
say(981,224,["B"],{font:sans,bold:true,size:11});

// ---------- c ----------
const cY=d3.scaleLinear().domain([0,4]).range([409.5,285]);
const cLine=d3.line().x((d,i)=>X(cX[i])).y(d=>cY(d));
panel(L,R,285,410,"#fff").append("path").attr("d",cLine(cDensity)).attr("fill","none").attr("stroke","#000").attr("stroke-width",2.4);
axes(X,cY,{xMinor:hundreds,xMajor:xMajorTicks,yMinor:[.5,1.5,2.5,3.5],yMajor:[0,1,2,3,4],yl:15,ys:8,yFmt:d=>d,yShift:{0:-6,4:9}});
letter(133,308,"c)");
say(63,347,["\u27e8Density\u27e9"],{rot:true,size:20,ls:1});

// ---------- d ----------
const dY=d3.scaleLinear().domain([0,.15]).range([544.5,421.5]);
const dLine=d3.line().x((d,i)=>X(dX[i])).y(d=>dY(d));
panel(L,R,421,545,"#fff").append("path").attr("d",dLine(dEps)).attr("fill","none").attr("stroke","#000").attr("stroke-width",2.4);
axes(X,dY,{xMinor:hundreds,xMajor:xMajorTicks,yMinor:[.025,.075,.125],yMajor:[0,.05,.1,.15],yl:15,ys:8,yFmt:d=>d.toFixed(2),yShift:{0:-7,.15:7}});
letter(132,447,"d)");
say(29,480,["\u27e8\u03b5",["B",6,13],["\u27e9",0]],{rot:true,size:20});

// ---------- e ----------
const eY=heatPanel(555,863,[-466,538],eKnots,eUpper,eLower,eNoisyUpper,eNoisyLower,eSparseUpper,eSparseLower,eOutX,eOutY);
const annLine=d3.line().x(d=>X(d[0])).y(d=>eY(d[1]));
svg.append("path").attr("d",annLine(d3.zip(annoReturningX,annoReturningY))).attr("stroke","#101030").attr("stroke-width",2.6).attr("fill","none");
svg.append("path").attr("d",annLine(d3.zip(annoIncomingX,annoIncomingY))).attr("stroke","#101030").attr("stroke-width",2.6).attr("fill","none");
axes(X,eY,{xMinor:hundreds,xMajor:xMajorTicks,yMinor:d3.range(-450,538,50).filter(v=>v%200),yMajor:[-400,-200,0,200,400],yl:15,ys:8,yFmt:minus});
letter(133,590,"e)","#cbcbcb");
[["returning",587],["stream",609],["incoming",802],["stream",824]].forEach(t=>say(735,t[1],[t[0]],{font:ital,italic:true,size:19,ls:1.5,sx:1.45,anchor:"start"}));
say(24,722,["\u03b3\u03b2",["x",5,13]],{rot:true,italic:true,size:20});
colorbar(555,864,2.9,v=>v/2.9<.065?"#d3d3d3":hotColor(v/2.9),[.36,.725,1.09,1.45,1.81,2.175,2.54],[[0,"0.0",-7],[.725,"0.7"],[1.45,"1.4"],[2.175,"2.2"],[2.9,"2.9",7]]);
say(966,709,["N(x,\u03b3\u03b2",["x",4,11],[")",0],["0.12",-8,11]],{rot:true,font:sans,bold:true,size:17});

// ---------- f ----------
const fY=heatPanel(873,1182,[-723,656],fKnots,fUpper,fLower,fNoisyUpper,fNoisyLower,fSparseUpper,fSparseLower,fOutX,fOutY);
axes(X,fY,{xMinor:hundreds,xMajor:xMajorTicks,yMinor:d3.range(-700,656,50).filter(v=>v%200),yMajor:[-600,-400,-200,0,200,400,600],yl:15,ys:8,yFmt:minus,xFmt:d=>d});
svg.append("rect").attr("x",128).attr("y",890).attr("width",23).attr("height",23).attr("fill","#c4c4c4");
say(131,907,["f)"],{font:ital,italic:true,size:23,anchor:"start"});
say(24,1027,["\u03b3\u03b2",["y",5,13]],{rot:true,italic:true,size:20});
colorbar(873,1182,3,v=>v/3<.065?"#d3d3d3":hotColor(v/3),[.375,.75,1.125,1.5,1.875,2.25,2.625],[[0,"0.0",-8],[.75,"0.8"],[1.5,"1.5"],[2.25,"2.3"],[3,"3.0",7]]);
say(966,1028,["N(x,\u03b3\u03b2",["y",4,11],[")",0],["0.12",-8,11]],{rot:true,font:sans,bold:true,size:17});
const arrowX=[3321,4105,5387];
arrowX.forEach(v=>{const p=d3.path();p.moveTo(X(v),1182);p.lineTo(X(v),1261);p.moveTo(X(v)-8,1247);p.lineTo(X(v),1261);p.lineTo(X(v)+8,1247);
  svg.append("path").attr("d",p.toString()).attr("fill","none").attr("stroke","#000").attr("stroke-width",2);});
say(437,1244,["x, [c/\u03c9",["p",8,15],["]",0]],{anchor:"start",size:21,ls:1});

// ---------- g h i ----------
const ghiX=[[111,355],[370,614],[629,873]];
const ghiScales=ghiX.map(r=>d3.scaleLinear().domain([-352,352]).range(r));
const vY=d3.scaleLinear().domain([-355,352]).range([1513,1262]);
const poly=(xs,ys,a,b)=>d3.line().x((d,i)=>xs(a[i])).y((d,i)=>ys(b[i])).curve(d3.curveCatmullRomClosed.alpha(.5))(a);
const ell=(g,xs,cx,rx,ry,fill,cy=0)=>g.append("ellipse").attr("cx",xs(cx)).attr("cy",vY(cy)).attr("rx",xs(rx)-xs(0)).attr("ry",vY(0)-vY(ry)).attr("fill",fill);
{ // g
  const xs=ghiScales[0],g=panel(111,355,1262,1513,"#d3d3d3");
  ell(g,xs,0,235,265,"url(#sprS)");
  ell(g,xs,0,gRx[0],gRy[0],"#2a10a0").attr("opacity",.62).attr("filter","url(#soft2)");
  ell(g,xs,0,gRx[0]+12,gRy[0]+12,"url(#spkS)");
  ell(g,xs,0,gRx[1],gRy[1],hotColor(.30)).attr("opacity",.6).attr("filter","url(#soft2)");
  const t=g.append("g").attr("filter","url(#soft2)");
  gRx.forEach((r,i)=>{if(i>=2&&i<6)ell(t,xs,0,r,gRy[i],hotColor(heatLevels[i-1]));});
  const u=g.append("g").attr("filter","url(#soft)");
  gRx.forEach((r,i)=>{if(i>=6)ell(u,xs,0,r,gRy[i],hotColor(heatLevels[i]));});
  outliers(g,xs,vY,gOutX,gOutY,2.7,2.7);
}
function beamPanel(k,hullX,hullY,coreX,coreY,outerX,outerY,cx,rx,ry,ox,oy){
  const xs=ghiScales[k],g=panel(ghiX[k][0],ghiX[k][1],1262,1513,"#d3d3d3");
  g.append("path").attr("d",poly(xs,vY,outerX,outerY)).attr("fill","url(#sprS)");
  g.append("path").attr("d",poly(xs,vY,hullX,hullY)).attr("fill","#2a10a0").attr("opacity",.62).attr("filter","url(#soft2)");
  g.append("path").attr("d",poly(xs,vY,hullX,hullY)).attr("fill","url(#spkS)");
  g.append("path").attr("d",poly(xs,vY,coreX,coreY)).attr("fill","#4a1070").attr("opacity",.65).attr("filter","url(#soft2)");
  outliers(g,xs,vY,ox,oy,2.7,2.7);
  const t=g.append("g");
  ell(t,xs,cx[0],rx[0],ry[0],"#16149a",-5);
  const t2=g.append("g").attr("filter","url(#soft)");
  [.345,.45,.5,.585,.683,.755,.9].forEach((v,i)=>ell(t2,xs,cx[i+1],rx[i+1],ry[i+1],hotColor(v),-5));
}
beamPanel(1,hHullX,hHullY,hCoreX,hCoreY,hOuterX,hOuterY,hBeamCx,hBeamRx,hBeamRy,hOutX,hOutY);
beamPanel(2,iHullX,iHullY,iCoreX,iCoreY,iOuterX,iOuterY,iBeamCx,iBeamRx,iBeamRy,iOutX,iOutY);
const tick50=[-300,-250,-150,-100,-50,50,100,150,250,300];
ghiScales.forEach((xs,k)=>{
  axes(xs,vY,{xMinor:tick50,xMajor:[-200,0,200],xPad:17,xFmt:minus,yMinor:[-350,-300,-250,-150,-100,-50,50,100,150,250,300,350],yMajor:[-200,0,200],yl:5,ys:3,yw:2,yFmt:k===0?minus:()=>""});
  say((ghiX[k][0]+ghiX[k][1])/2+(k==0?-.4:0),1580,["\u03b3\u03b2",["x",5,13]],{italic:true,size:20});
});
letter(132,1297,"g)");letter(392,1297,"h)");letter(653,1297,"i)");
say(24,1387,["\u03b3\u03b2",["y",5,13]],{rot:true,italic:true,size:20});
colorbar(1262,1513,3.4,v=>v/3.4<.065?"#d3d3d3":hotColor(v/3.4),[.425,.85,1.275,1.7,2.125,2.55,2.975],[[0,"0.0",-8],[.85,"0.8"],[1.7,"1.7"],[2.55,"2.5"],[3.4,"3.4",7]]);
say(966,1389,["N(\u03b3\u03b2",["x",4,11],[",\u03b3\u03b2",0],["y",4,11],[")",0],["0.12",-8,11]],{rot:true,font:sans,bold:true,size:16});

// ---------- j k l ----------
const spectra=[[logGammaJ,logNJ],[logGammaK,logNK],[logGammaL,logNL]];
const logMinor=[2,3,4,5,6,7,8,9,20,30,40,50,60,70,80,90,200,300,400,500,600,700,800,900,2000];
const nY=d3.scaleLog().domain([.1,1e9]).range([1843,1593]);
ghiX.forEach((r,k)=>{
  const xs=d3.scaleLog().domain([1,2290]).range(r);
  const g=panel(r[0],r[1],1593,1843,"#fff");
  const [lg,ln]=spectra[k];
  g.append("path").attr("d",d3.line().x((d,i)=>xs(10**lg[i])).y(d=>nY(10**d)).curve(d3.curveMonotoneX)(ln)).attr("fill","none").attr("stroke","#08089a").attr("stroke-width",2.4);
  const a=axes(xs,nY,{xMinor:logMinor,xMajor:[1,10,100,1000],xFmt:d=>d,yMinor:[.1,10,1e3,1e5,1e7,1e9],yMajor:[1,100,1e4,1e6,1e8],yl:5,ys:3,yw:2,yFmt:k===0?(d=>d):()=>""});
  if(k===0)a.left.selectAll("text").each(function(d){const t=d3.select(this).text(null);t.append("tspan").text("10");t.append("tspan").attr("dy",-8).attr("font-size",13).text(Math.round(Math.log10(d)));}).attr("dy",6.5);
  say((r[0]+r[1])/2,1908,["\u03b3"],{italic:true,size:21});
});
letter(134,1627,"j)");letter(392,1627,"k)");letter(653,1627,"l)");
say(40,1720,["\u03b3dN(\u03b3)/d\u03b3"],{rot:true,italic:true,size:21,ls:1.5});
</script></body></html>
